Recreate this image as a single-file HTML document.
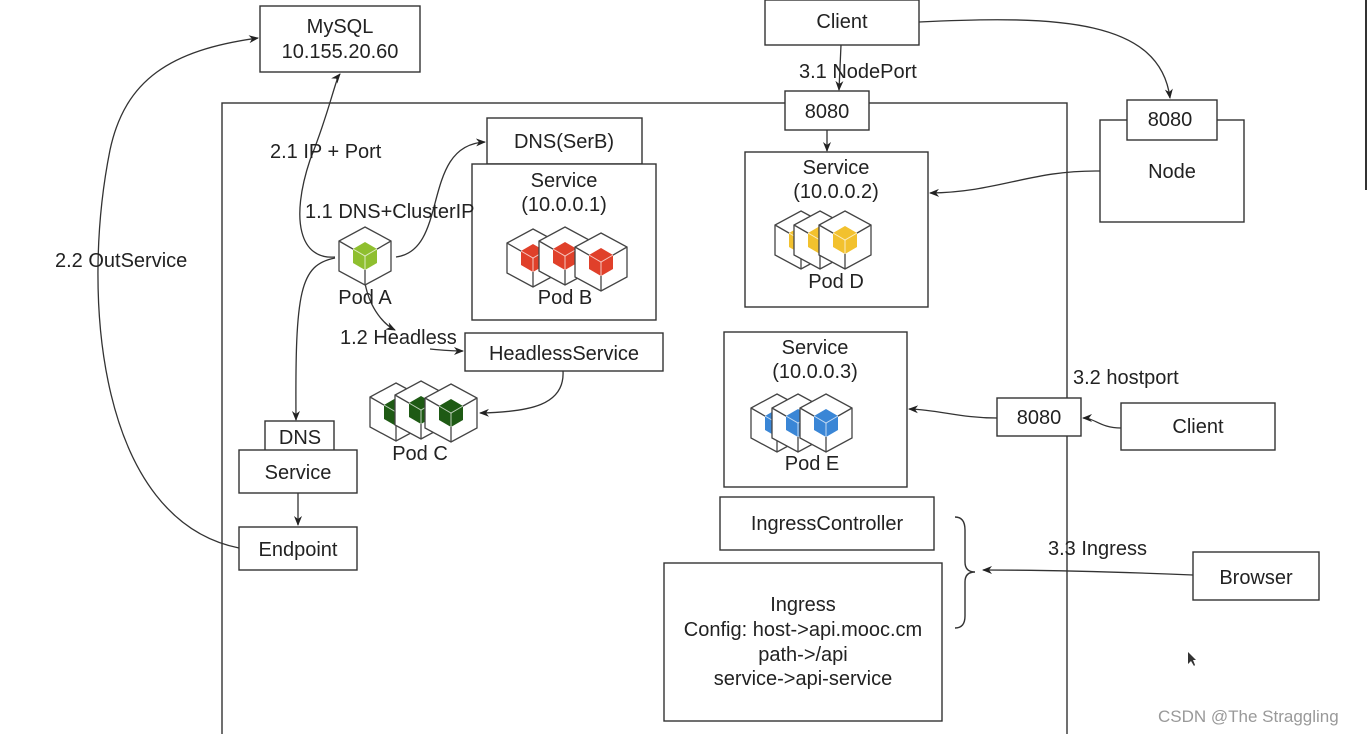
<!DOCTYPE html>
<html><head><meta charset="utf-8"><style>
html,body{margin:0;padding:0;background:#fff;}
svg{display:block;font-family:"Liberation Sans",Arial,sans-serif;}
text{font-size:20px;fill:#222;}
</style></head><body>
<svg width="1369" height="734" viewBox="0 0 1369 734" xmlns="http://www.w3.org/2000/svg">
<defs>
<marker id="ar" viewBox="0 0 10 10" refX="9" refY="5" markerWidth="10" markerHeight="10" orient="auto" markerUnits="userSpaceOnUse"><path d="M0,1 L10,5 L0,9 L3,5 z" fill="#222"/></marker>
<g id="cube">
<polygon points="0,-29 26,-15 26,15 0,29 -26,15 -26,-15" fill="#fff" stroke="#444" stroke-width="1.3"/>
<polyline points="-26,-15 0,0 26,-15" fill="none" stroke="#444" stroke-width="1.3"/>
<line x1="0" y1="0" x2="0" y2="29" stroke="#444" stroke-width="1.3"/>
<polygon points="0,-14 12,-7 12,7 0,14 -12,7 -12,-7" fill="currentColor"/>
<polyline points="-12,-7 0,0 12,-7" fill="none" stroke="#fff" stroke-width="1" opacity="0.7"/>
<line x1="0" y1="0" x2="0" y2="14" stroke="#fff" stroke-width="1" opacity="0.7"/>
</g>
</defs>
<g fill="none" stroke="#333" stroke-width="1.4">
<rect x="222" y="103" width="845" height="640"/>
<rect x="260" y="6" width="160" height="66" fill="#fff"/>
<rect x="765" y="0" width="154" height="45" fill="#fff"/>
<rect x="785" y="91" width="84" height="39" fill="#fff"/>
<rect x="745" y="152" width="183" height="155" fill="#fff"/>
<rect x="1100" y="120" width="144" height="102" fill="#fff"/>
<rect x="1127" y="100" width="90" height="40" fill="#fff"/>
<rect x="487" y="118" width="155" height="46" fill="#fff"/>
<rect x="472" y="164" width="184" height="156" fill="#fff"/>
<rect x="465" y="333" width="198" height="38" fill="#fff"/>
<rect x="265" y="421" width="69" height="32" fill="#fff"/>
<rect x="239" y="450" width="118" height="43" fill="#fff"/>
<rect x="239" y="527" width="118" height="43" fill="#fff"/>
<rect x="724" y="332" width="183" height="155" fill="#fff"/>
<rect x="997" y="398" width="84" height="38" fill="#fff"/>
<rect x="1121" y="403" width="154" height="47" fill="#fff"/>
<rect x="720" y="497" width="214" height="53" fill="#fff"/>
<rect x="664" y="563" width="278" height="158" fill="#fff"/>
<rect x="1193" y="552" width="126" height="48" fill="#fff"/>
<path d="M955,517 Q965,517 965,530 L965,562 Q965,572 975,572 Q965,572 965,582 L965,616 Q965,628 955,628"/>
</g>
<line x1="1366" y1="0" x2="1366" y2="190" stroke="#333" stroke-width="2"/>
<g fill="none" stroke="#333" stroke-width="1.3" marker-end="url(#ar)">
<path d="M919,22 C1060,15 1160,20 1170,98"/>
<path d="M841,45 L839,90"/>
<path d="M827,130 L827,151"/>
<path d="M1100,171 C1030,170 1000,192 930,193"/>
<path d="M997,418 C960,418 940,410 909,409"/>
<path d="M1121,428 C1100,428 1095,418 1083,418"/>
<path d="M1193,575 C1120,572 1040,570 983,570"/>
<path d="M396,257 C450,250 420,145 485,142"/>
<path d="M335,258 C300,265 295,290 296,420"/>
<path d="M298,493 L298,525"/>
<path d="M335,257 C300,260 290,220 310,160 C330,110 335,80 340,74"/>
<path d="M239,548 C100,520 80,300 110,150 C125,80 170,50 258,38"/>
<path d="M365,283 C370,310 385,325 395,330"/>
<path d="M430,349 C450,351 455,351 463,351"/>
<path d="M563,371 C565,405 530,412 480,413"/>
</g>
<use href="#cube" x="365" y="256" color="#8fbf2f"/>
<g color="#e0402a">
<use href="#cube" x="533" y="258"/>
<use href="#cube" x="565" y="256"/>
<use href="#cube" x="601" y="262"/>
</g>
<g color="#1e5a14">
<use href="#cube" x="396" y="412"/>
<use href="#cube" x="421" y="410"/>
<use href="#cube" x="451" y="413"/>
</g>
<g color="#f2c12e">
<use href="#cube" x="801" y="240"/>
<use href="#cube" x="820" y="240"/>
<use href="#cube" x="845" y="240"/>
</g>
<g color="#3a86d6">
<use href="#cube" x="777" y="423"/>
<use href="#cube" x="798" y="423"/>
<use href="#cube" x="826" y="423"/>
</g>
<g text-anchor="middle">
<text x="340" y="33">MySQL</text>
<text x="340" y="58">10.155.20.60</text>
<text x="842" y="28">Client</text>
<text x="827" y="118">8080</text>
<text x="836" y="174">Service</text>
<text x="836" y="198">(10.0.0.2)</text>
<text x="836" y="288">Pod D</text>
<text x="1170" y="126">8080</text>
<text x="1172" y="178">Node</text>
<text x="564" y="148">DNS(SerB)</text>
<text x="564" y="187">Service</text>
<text x="564" y="211">(10.0.0.1)</text>
<text x="565" y="304">Pod B</text>
<text x="365" y="304">Pod A</text>
<text x="564" y="360">HeadlessService</text>
<text x="420" y="460">Pod C</text>
<text x="300" y="444">DNS</text>
<text x="298" y="479">Service</text>
<text x="298" y="556">Endpoint</text>
<text x="815" y="354">Service</text>
<text x="815" y="378">(10.0.0.3)</text>
<text x="812" y="470">Pod E</text>
<text x="1039" y="424">8080</text>
<text x="1198" y="433">Client</text>
<text x="827" y="530">IngressController</text>
<text x="1256" y="584">Browser</text>
<text x="803" y="611">Ingress</text>
<text x="803" y="636">Config: host-&gt;api.mooc.cm</text>
<text x="803" y="661">path-&gt;/api</text>
<text x="803" y="685">service-&gt;api-service</text>
</g>
<text x="799" y="78">3.1 NodePort</text>
<text x="270" y="158">2.1 IP + Port</text>
<text x="305" y="218">1.1 DNS+ClusterIP</text>
<text x="340" y="344">1.2 Headless</text>
<text x="55" y="267">2.2 OutService</text>
<text x="1073" y="384">3.2 hostport</text>
<text x="1048" y="555">3.3 Ingress</text>
<text x="1158" y="722" style="font-size:17px;fill:#999">CSDN @The Straggling</text>
<path d="M1188,652 L1188,664 L1191,661 L1194,666 L1195,665 L1193,660 L1196,660 z" fill="#333"/>
</svg>
</body></html>
